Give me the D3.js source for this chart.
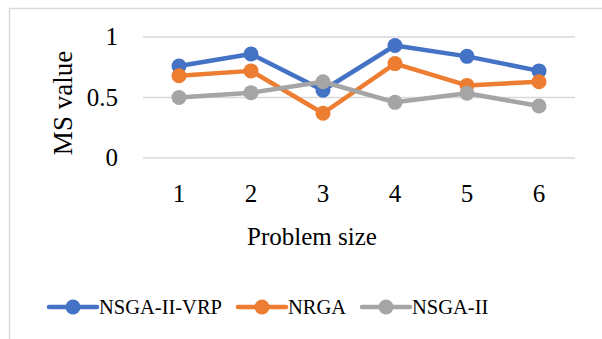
<!DOCTYPE html>
<html>
<head>
<meta charset="utf-8">
<script src="https://cdn.jsdelivr.net/npm/d3@7"></script>
</head>
<body style="margin:0">
<script>
// chart data
const problemSizes = ["1", "2", "3", "4", "5", "6"];
const nsgaVrp = [0.76, 0.86, 0.56, 0.93, 0.84, 0.72];
const nrga = [0.68, 0.72, 0.37, 0.78, 0.60, 0.63];
const nsga2 = [0.50, 0.54, 0.63, 0.46, 0.535, 0.43];
const seriesNames = ["NSGA-II-VRP", "NRGA", "NSGA-II"];
const yTicks = [0, 0.5, 1];

const colors = ["#4472C4", "#ED7D31", "#A5A5A5"];
const series = [nsgaVrp, nrga, nsga2].map((vals, i) => ({name: seriesNames[i], values: vals, color: colors[i]}));

const W = 602, H = 339;
const margin = {top: 37, left: 143, right: 27};

const svg = d3.select("body").append("svg")
    .attr("width", W)
    .attr("height", H)
    .attr("font-family", "Liberation Serif");

// adds a serif text element
function label(g, str, size) {
    return g.append("text")
        .style("font-family", d => "'Liberation Serif'")
        .style("font-size", size + "px")
        .text(str);
}

// outer chart border
svg.append("rect")
    .attr("x", 9.5).attr("y", 8.5)
    .attr("width", 700).attr("height", 400)
    .attr("fill", "none")
    .attr("stroke", "#d9d9d9")
    .attr("stroke-width", 1.5);

const x = d3.scaleBand()
    .domain(problemSizes)
    .range([margin.left, W - margin.right]);

const y = d3.scaleLinear()
    .domain([0, 1])
    .range([158, margin.top]);

// gridlines
svg.append("g")
    .selectAll("line")
    .data(yTicks)
    .enter()
    .append("line")
    .attr("x1", margin.left)
    .attr("x2", W - margin.right)
    .attr("y1", d => y(d))
    .attr("y2", d => y(d))
    .attr("stroke", "#d9d9d9")
    .attr("stroke-width", 1.5);

// y tick labels
svg.append("g")
    .selectAll("text")
    .data(yTicks)
    .enter()
    .append("text")
    .attr("x", 118)
    .attr("y", d => y(d) + 8)
    .attr("text-anchor", "end")
    .style("font-family", d => "'Liberation Serif'")
    .style("font-size", "25px")
    .text(d => d);

// x tick labels
svg.append("g")
    .selectAll("text")
    .data(problemSizes)
    .enter()
    .append("text")
    .attr("x", d => x(d) + x.bandwidth() / 2)
    .attr("y", 202)
    .attr("text-anchor", "middle")
    .style("font-family", d => "'Liberation Serif'")
    .style("font-size", "25px")
    .text(d => d);

// axis titles
label(svg, "MS value", 27)
    .attr("transform", "translate(72,103) rotate(-90)")
    .attr("text-anchor", "middle");

label(svg, "Problem size", 25)
    .attr("x", 312)
    .attr("y", 245)
    .attr("text-anchor", "middle");

// lines and markers
const line = d3.line()
    .x((d, i) => x(problemSizes[i]) + x.bandwidth() / 2)
    .y(d => y(d));

series.forEach(s => {
    const g = svg.append("g");
    g.append("path")
        .datum(s.values)
        .attr("d", line)
        .attr("fill", "none")
        .attr("stroke", s.color)
        .attr("stroke-width", 4.5)
        .attr("stroke-linejoin", "round");
    g.selectAll("circle")
        .data(s.values)
        .enter()
        .append("circle")
        .attr("cx", (d, i) => x(problemSizes[i]) + x.bandwidth() / 2)
        .attr("cy", d => y(d))
        .attr("r", 7.5)
        .attr("fill", s.color);
});

// legend
const legendX = [49, 238, 362];
series.forEach((s, i) => {
    const lg = svg.append("g").attr("transform", "translate(" + legendX[i] + ",307)");
    lg.append("line")
        .attr("x1", 0).attr("x2", 48)
        .attr("stroke", s.color)
        .attr("stroke-width", 4.5)
        .attr("stroke-linecap", "round");
    lg.append("circle")
        .attr("cx", 24).attr("r", 7.5)
        .attr("fill", s.color);
    label(lg, s.name, 20.5)
        .attr("x", 50)
        .attr("y", 7);
});
</script>
</body>
</html>
